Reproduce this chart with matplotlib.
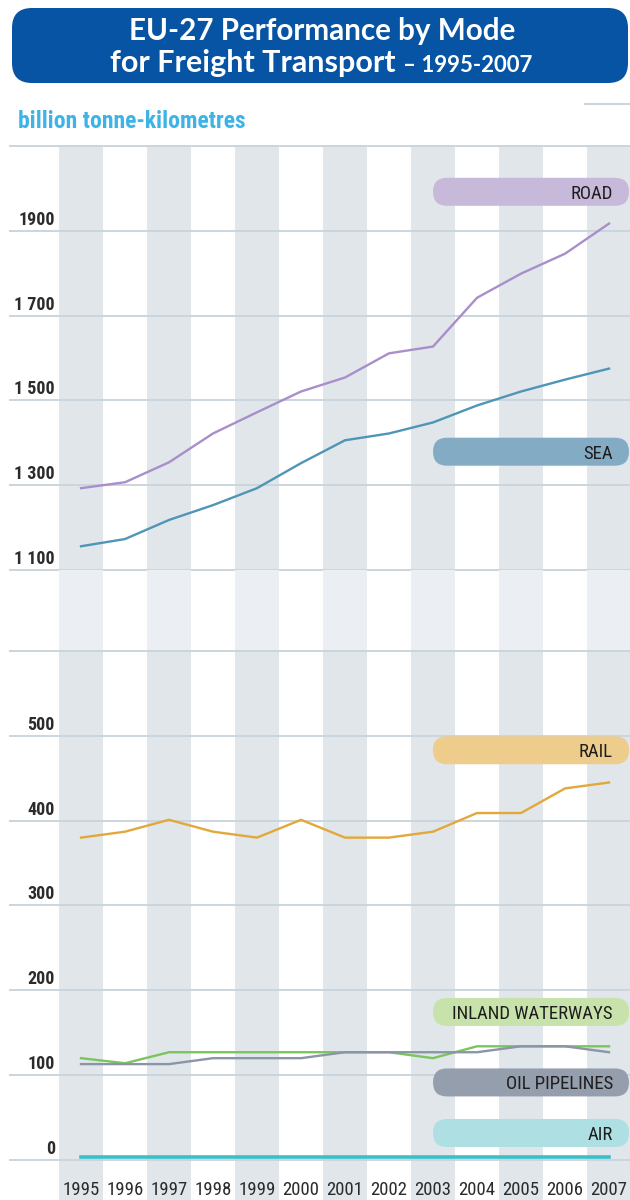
import matplotlib
matplotlib.use("Agg")
import matplotlib.pyplot as plt
from matplotlib import font_manager
from matplotlib.lines import Line2D
from matplotlib.patches import FancyBboxPatch
from matplotlib.transforms import IdentityTransform

# ── data (billion tonne-km) ──────────────────────────────────────────────────
years = [1995, 1996, 1997, 1998, 1999, 2000, 2001, 2002, 2003, 2004, 2005, 2006, 2007]
road = [1293, 1307, 1354, 1422, 1472, 1521, 1554, 1611, 1627, 1742, 1799, 1846, 1917]
sea = [1156, 1173, 1218, 1253, 1293, 1352, 1406, 1422, 1448, 1488, 1521, 1549, 1575]
rail = [380, 387, 401, 387, 380, 401, 380, 380, 387, 409, 409, 438, 445]
inland = [120, 114, 127, 127, 127, 127, 127, 127, 120, 134, 134, 134, 134]
oil = [113, 113, 113, 120, 120, 120, 127, 127, 127, 127, 134, 134, 127]
air = [3, 3, 3, 3, 3, 3, 3, 3, 3, 3, 3, 3, 3]

top_ticks = [1100, 1300, 1500, 1700, 1900]
top_tick_labels = ["1 100", "1 300", "1 500", "1 700", "1900"]
bot_ticks = [0, 100, 200, 300, 400, 500]
bot_tick_labels = ["0", "100", "200", "300", "400", "500"]

# ── fonts / colours ──────────────────────────────────────────────────────────
_ents = font_manager.fontManager.ttflist
_names = {f.name for f in _ents}


def pick_condensed():
    # a narrow face if one is installed, else plain Liberation Sans
    for fam in ("Liberation Sans Narrow", "Roboto Condensed", "Open Sans Condensed"):
        if fam in _names:
            return fam, "normal"
    for fam in ("Noto Sans", "DejaVu Sans", "Open Sans", "Roboto"):
        if any(f.name == fam and "condensed" in str(f.stretch) for f in _ents):
            return fam, "condensed"
    return "Liberation Sans", "normal"


NARROW, STRETCH = pick_condensed()
TITLE_FONT = "Lato" if "Lato" in _names else "DejaVu Sans"
NFONT = dict(family=NARROW, stretch=STRETCH)

BAND = "#e1e6eb"
BAND_LIGHT = "#ebeff3"
GRID = "#cbd5dd"
TXT = "#2b2b2b"

W, H = 630, 1200
fig = plt.figure(figsize=(W / 100, H / 100), dpi=100)
fig.patch.set_facecolor("white")
renderer = fig.canvas.get_renderer()


def fit_size(text, target_w, **kw):
    # font size at which `text` is target_w pixels wide
    t = fig.text(0, 0, text, fontsize=10, **kw)
    w = t.get_window_extent(renderer).width
    t.remove()
    return 10 * target_w / w


def box(x0, x1, ytop, ybot):
    return [x0 / W, 1 - ybot / H, (x1 - x0) / W, (ybot - ytop) / H]


ax_top = fig.add_axes(box(10, 630, 146, 570))
ax_mid = fig.add_axes(box(10, 630, 570, 651))
ax_bot = fig.add_axes(box(10, 630, 651, 1200))

XLIM = (1993.386, 2007.477)
ax_top.set_ylim(1100, 2100)
ax_mid.set_ylim(0, 1)
ax_bot.set_ylim(-47.2, 600)

for ax, col in ((ax_top, BAND), (ax_mid, BAND_LIGHT), (ax_bot, BAND)):
    ax.set_xlim(*XLIM)
    ax.axis("off")
    for i, yr in enumerate(years):
        if i % 2 == 0:
            ax.axvspan(yr - 0.5, yr + 0.5, color=col, lw=0, zorder=0)

# grid lines
for v in top_ticks + [2100]:
    ax_top.axhline(v, color=GRID, lw=1.4, zorder=1, clip_on=False)
for v in bot_ticks + [600]:
    ax_bot.axhline(v, color=GRID, lw=1.4, zorder=1, clip_on=False)

# tick labels, sitting just above their line
tick_fs = min(fit_size("1 100", 42, fontweight="bold", **NFONT), 13)
lab_x = (55 - 10) / 620
for ax, ticks, labels in ((ax_top, top_ticks, top_tick_labels), (ax_bot, bot_ticks, bot_tick_labels)):
    for v, lab in zip(ticks, labels):
        ax.annotate(lab, xy=(lab_x, v), xycoords=("axes fraction", "data"),
                    xytext=(0, 6), textcoords="offset pixels",
                    ha="right", va="baseline", fontsize=tick_fs, fontweight="bold",
                    color=TXT, **NFONT)

# year labels
year_fs = min(fit_size("1995", 38, **NFONT), 13.5)
for yr in years:
    ax_bot.text(yr, -35.4, str(yr), ha="center", va="center",
                fontsize=year_fs, color=TXT, **NFONT)

# ── series ───────────────────────────────────────────────────────────────────
ax_top.plot(years, road, color="#a98fca", lw=1.7, zorder=3)
ax_top.plot(years, sea, color="#4f95b5", lw=1.7, zorder=3)
ax_bot.plot(years, rail, color="#e2a83a", lw=1.7, zorder=3)
ax_bot.plot(years, inland, color="#7ac55c", lw=1.7, zorder=3)
ax_bot.plot(years, oil, color="#8b95a8", lw=1.7, zorder=4)
ax_bot.plot(years, air, color="#3dbfca", lw=2.6, zorder=4)

# ── label pills ──────────────────────────────────────────────────────────────
pills = [
    (ax_top, 1992, "ROAD", "#c6b9da"),
    (ax_top, 1379, "SEA", "#84abc4"),
    (ax_bot, 483, "RAIL", "#edcc8c"),
    (ax_bot, 174.5, "INLAND WATERWAYS", "#c7e2aa"),
    (ax_bot, 91.4, "OIL PIPELINES", "#959eac"),
    (ax_bot, 31.8, "AIR", "#aedfe3"),
]
pill_fs = min(fit_size("INLAND WATERWAYS", 166, **NFONT), 13.5)
for ax, val, name, col in pills:
    yd = ax.transData.transform((2000, val))[1]
    p = FancyBboxPatch((433, yd - 14), 196, 28,
                       boxstyle="round,pad=0,rounding_size=14",
                       transform=IdentityTransform(), fc=col, ec="none", zorder=5)
    fig.add_artist(p)
    fig.text(613, yd, name, transform=IdentityTransform(), ha="right", va="center_baseline",
             fontsize=pill_fs, color="#1e1e1e", zorder=6, **NFONT)

# ── header ───────────────────────────────────────────────────────────────────
hdr = FancyBboxPatch((12, H - 83), 616, 75, boxstyle="round,pad=0,rounding_size=20",
                     transform=IdentityTransform(), fc="#0654a3", ec="none", zorder=1)
fig.add_artist(hdr)
fig.text(322, H - 31, "EU-27 Performance by Mode", transform=IdentityTransform(),
         ha="center", va="center", fontsize=21.3, fontweight="bold",
         family=TITLE_FONT, color="white", zorder=2)

t1 = fig.text(0, H - 72, "for Freight Transport", transform=IdentityTransform(),
              ha="left", va="baseline", fontsize=22, fontweight="bold",
              family=TITLE_FONT, color="white", zorder=2)
t2 = fig.text(0, H - 72, "– 1995-2007", transform=IdentityTransform(),
              ha="left", va="baseline", fontsize=16, fontweight="bold",
              family=TITLE_FONT, color="white", zorder=2)
w1 = t1.get_window_extent(renderer).width
w2 = t2.get_window_extent(renderer).width
gap = 8
x0 = 321 - (w1 + gap + w2) / 2
t1.set_x(x0)
t2.set_x(x0 + w1 + gap)

sub_fs = min(fit_size("billion tonne-kilometres", 237, fontweight="bold", **NFONT), 17)
fig.text(18 / W, 1 - 121 / H, "billion tonne-kilometres", ha="left", va="center",
         fontsize=sub_fs, fontweight="bold", color="#3db4e5", **NFONT)

fig.add_artist(Line2D([585, 629], [H - 104, H - 104], transform=IdentityTransform(),
                      color=GRID, lw=1.5))

fig.savefig("out.png", dpi=100)
